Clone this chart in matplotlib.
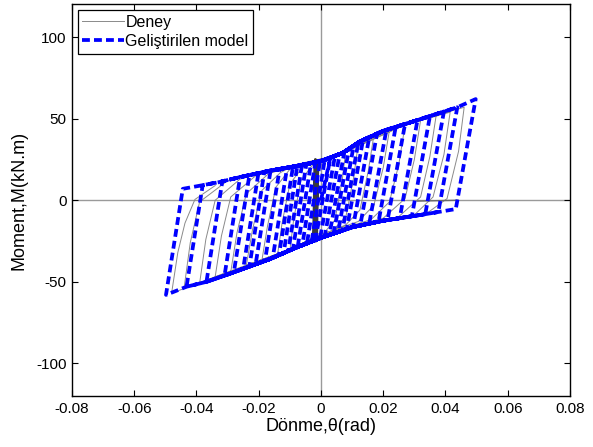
import matplotlib
matplotlib.use("Agg")
import matplotlib.pyplot as plt
from matplotlib.ticker import FixedLocator, FuncFormatter

# ---- model (Gelistirilen model): cycle peaks ----
pos_t = [0.003, 0.0045, 0.006, 0.0075, 0.009, 0.0105, 0.012, 0.0135, 0.0155,
         0.018, 0.021, 0.024, 0.027, 0.031, 0.035, 0.0395, 0.0438, 0.0497]
pos_m = [26.1, 27.2, 28.3, 29.6, 31.5, 33.5, 35.4, 36.9, 38.6,
         40.8, 43.1, 44.9, 46.7, 49.1, 51.6, 54.4, 57.0, 62.0]
unl_t = [-0.0018, -0.0003, 0.0012, 0.0027, 0.0041, 0.0055, 0.0069, 0.0083, 0.0103,
         0.0126, 0.0155, 0.0185, 0.0214, 0.0253, 0.0292, 0.0335, 0.0377, 0.0433]
unl_m = [-24.4, -23.2, -22.2, -21.3, -20.3, -19.4, -18.5, -17.6, -16.4,
         -15.5, -14.3, -13.1, -12.1, -11.0, -9.8, -8.5, -7.2, -5.4]
neg_t = [-0.003, -0.0045, -0.006, -0.0075, -0.009, -0.0105, -0.012, -0.0135, -0.0155,
         -0.018, -0.021, -0.023, -0.025, -0.028, -0.031, -0.0368, -0.0432, -0.0498]
neg_m = [-25.3, -26.4, -27.5, -28.6, -29.8, -31.1, -32.3, -33.6, -35.3,
         -37.1, -39.2, -40.6, -42.0, -44.1, -46.2, -50.0, -53.0, -58.0]
rel_t = [0.0012, -0.0003, -0.0018, -0.0032, -0.0047, -0.0061, -0.0076, -0.009, -0.0109,
         -0.0133, -0.0162, -0.0182, -0.0201, -0.023, -0.026, -0.0317, -0.038, -0.0444]
rel_m = [24.8, 23.9, 23.3, 22.8, 22.2, 21.65, 21.1, 20.6, 19.9,
         19.1, 18.2, 17.4, 16.6, 15.4, 14.2, 11.6, 9.3, 7.0]

# upper (loading) branch and lower (unloading) branch knots of the model
upper_t = [-0.0445, -0.033, -0.0264, -0.0167, -0.0078, 0.0, 0.007, 0.0125, 0.02, 0.03, 0.0438]
upper_m = [7.0, 11.0, 14.0, 18.0, 21.0, 24.0, 29.0, 36.0, 42.5, 48.5, 57.0]
lower_t = [0.032, 0.02, 0.01, 0.0, -0.008, -0.0164, -0.03, -0.0368, -0.0432]
lower_m = [-9.0, -12.5, -16.5, -23.0, -29.0, -36.0, -45.5, -50.0, -53.0]

deney_t = [
    [-0.002, 0.004, 0.008, 0.0068, 0.0045, 0.001, -0.004, -0.010, -0.0088, -0.0065, -0.003],
    [-0.003, 0.005, 0.012, 0.0105, 0.008, 0.004, -0.004, -0.014, -0.0125, -0.010, -0.006],
    [-0.006, 0.005, 0.012, 0.017, 0.0152, 0.0125, 0.008, 0.0, -0.008, -0.019, -0.0172, -0.0145, -0.010],
    [-0.008, 0.006, 0.015, 0.022, 0.020, 0.017, 0.012, 0.0, -0.010, -0.018, -0.024, -0.022, -0.019, -0.013],
    [-0.011, 0.006, 0.018, 0.027, 0.025, 0.022, 0.016, 0.0, -0.010, -0.020, -0.029, -0.027, -0.024, -0.017],
    [-0.014, 0.006, 0.020, 0.032, 0.030, 0.027, 0.020, 0.0, -0.010, -0.022, -0.034, -0.032, -0.029, -0.021],
    [-0.017, 0.006, 0.022, 0.037, 0.035, 0.032, 0.025, 0.0, -0.010, -0.025, -0.039, -0.037, -0.034, -0.026],
    [-0.020, 0.006, 0.025, 0.0415, 0.0395, 0.036, 0.030, 0.0, -0.010, -0.028, -0.044, -0.042, -0.039, -0.030],
    [-0.024, 0.006, 0.028, 0.046, 0.0442, 0.0405, 0.034, 0.0, -0.010, -0.030, -0.048, -0.046, -0.0437, -0.0405, -0.034],
]
deney_m = [
    [22, 27, 31, 12, -12, -20, -26, -31, -12, 12, 21],
    [21, 28, 35, 14, -10, -18, -27, -34, -14, 10, 20],
    [20, 27, 35, 40, 18, -6, -15, -22, -29, -37, -16, 8, 19],
    [20, 28, 38, 43, 20, -3, -13, -21, -30, -36, -40, -18, 6, 17],
    [19, 28, 40, 46, 22, -1, -12, -21, -30, -38, -44, -20, 4, 16],
    [18, 28, 42, 49, 25, 1, -11, -21, -30, -39, -47, -22, 2, 15],
    [17, 28, 43, 52, 27, 2, -10, -21, -30, -41, -51, -24, 0, 13],
    [16, 28, 45, 54, 28, 2, -9, -21, -30, -43, -54, -26, -1, 12],
    [15, 28, 47, 57, 30, 1, -8, -21, -30, -44, -57, -32, -14, 0.5, 9],
]
flat_t = [0.031, 0.044]
flat_m = [-0.5, 0.0]
small_t = [-0.0010, -0.0014, -0.0022, -0.0018, -0.0011, -0.0016, -0.0024, -0.0019, -0.0013]
small_m = [24, -24, -23, 25, 23, -25, -22, 24, 0]

# build the model path: load -> peak -> unload -> lower branch -> neg peak -> reload
path_t, path_m = [0.0], [0.0]
for i in range(len(pos_t)):
    start = path_t[-1]
    for t, m in zip(upper_t, upper_m):
        if start < t < pos_t[i]:
            path_t.append(t)
            path_m.append(m)
    path_t += [pos_t[i], unl_t[i]]
    path_m += [pos_m[i], unl_m[i]]
    for t, m in zip(lower_t, lower_m):
        if neg_t[i] < t < unl_t[i]:
            path_t.append(t)
            path_m.append(m)
    path_t += [neg_t[i], rel_t[i]]
    path_m += [neg_m[i], rel_m[i]]
# final reloading runs back along the upper branch to the origin side
for t, m in zip(upper_t, upper_m):
    if rel_t[-1] < t <= 0.0:
        path_t.append(t)
        path_m.append(m)

exp_t = [v for cyc in deney_t for v in cyc]
exp_m = [v for cyc in deney_m for v in cyc]

plt.rcParams.update({
    "font.family": ["Liberation Sans", "DejaVu Sans"],
    "font.size": 11,
})

fig = plt.figure(figsize=(5.93, 4.47), dpi=100)
ax = fig.add_axes([0.1214, 0.114, 0.8398, 0.876])

ax.axhline(0, color="#9a9a9a", lw=1.0, zorder=1)
ax.axvline(0, color="#9a9a9a", lw=1.0, zorder=1)

ax.plot(exp_t, exp_m, color="#8a8a8a", lw=0.7, zorder=2, label="Deney")
ax.plot(flat_t, flat_m, color="#6a6a6a", lw=1.0, zorder=2)
ax.plot(small_t, small_m, color="#3a3a3a", lw=2.0, zorder=2)
ax.plot(path_t, path_m, color="#0000ff", lw=2.7, linestyle=(0, (2.1, 1.1)),
        zorder=3, label="Geliştirilen model")

ax.set_xlim(-0.08, 0.08)
ax.set_ylim(-120, 120)
ax.xaxis.set_major_locator(FixedLocator([-0.08, -0.06, -0.04, -0.02, 0, 0.02, 0.04, 0.06, 0.08]))
ax.yaxis.set_major_locator(FixedLocator([-100, -50, 0, 50, 100]))
ax.xaxis.set_major_formatter(FuncFormatter(lambda v, p: f"{v:g}"))
ax.yaxis.set_major_formatter(FuncFormatter(lambda v, p: f"{v:g}"))
ax.tick_params(direction="in", length=4, width=0.8, top=True, right=True,
               labelsize=11, pad=4)
for s in ax.spines.values():
    s.set_linewidth(1.0)

ax.set_xlabel("Dönme,θ(rad)", fontsize=13, labelpad=2)
ax.set_ylabel("Moment,M(kN.m)", fontsize=13, labelpad=6)

leg = ax.legend(loc="upper left", fontsize=11.5, handlelength=2.6, borderaxespad=0.35,
                fancybox=False, edgecolor="black", framealpha=1, borderpad=0.3,
                labelspacing=0.25, handletextpad=0.1)
leg.get_frame().set_linewidth(0.9)

fig.savefig("out.png", dpi=100)
